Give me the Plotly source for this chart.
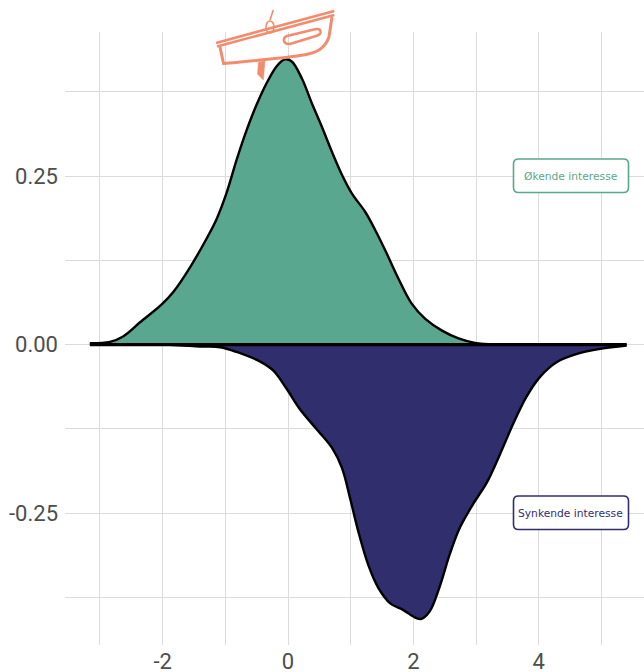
import plotly.graph_objects as go

up_x = [-3.16,-2.84,-2.63,-2.36,-2.01,-1.83,-1.56,-1.30,-1.14,-0.98,-0.82,-0.66,-0.50,-0.34,-0.18,-0.05,0.06,0.22,0.38,0.54,0.70,0.86,1.02,1.23,1.39,1.55,1.76,1.97,2.19,2.45,2.72,2.98,3.38,5.40]
up_y = [0.002,0.004,0.012,0.033,0.060,0.078,0.115,0.157,0.186,0.225,0.274,0.318,0.356,0.388,0.413,0.423,0.420,0.395,0.358,0.323,0.286,0.252,0.224,0.197,0.170,0.140,0.098,0.061,0.038,0.021,0.009,0.0025,0.0,0.0]
down_x = [-3.16,-1.89,-1.40,-1.08,-0.82,-0.45,-0.23,-0.02,0.19,0.46,0.70,0.86,0.99,1.12,1.28,1.44,1.63,1.84,2.05,2.13,2.26,2.42,2.58,2.74,2.95,3.17,3.38,3.59,3.80,4.02,4.29,4.61,4.98,5.40]
down_y = [0.0,-0.0005,-0.003,-0.004,-0.011,-0.025,-0.039,-0.066,-0.096,-0.126,-0.153,-0.183,-0.228,-0.277,-0.327,-0.361,-0.384,-0.394,-0.406,-0.407,-0.396,-0.359,-0.311,-0.272,-0.237,-0.205,-0.163,-0.118,-0.078,-0.048,-0.026,-0.014,-0.0065,-0.0015]
base_x = [-3.16, 5.40]
base_y = [0.0, 0.0]

x_major = [-2, 0, 2, 4]
x_minor = [-3, -1, 1, 3, 5]
y_major = [-0.25, 0, 0.25]
y_minor = [-0.375, -0.125, 0.125, 0.375]
y_labels = ["-0.25", "0.00", "0.25"]
label_up = "Økende interesse"
label_down = "Synkende interesse"

GREEN = "#5AA790"
NAVY = "#312E6D"
CORAL = "#F18C6E"
GRID = "#dcdcdc"
L, R, T, B = 65, 644, 32, 645


def X(p):
    return (p - L) / (R - L)


def Y(p):
    return (B - p) / (B - T)


def path(cmds):
    out = []
    for c in cmds:
        out.append(c[0] + " " + " ".join(
            f"{X(c[i]):.5f},{Y(c[i + 1]):.5f}" for i in range(1, len(c), 2)))
    return " ".join(out)


def rounded(x0, y0, x1, y1, r=5):
    return path([("M", x0 + r, y0), ("L", x1 - r, y0), ("Q", x1, y0, x1, y0 + r),
                 ("L", x1, y1 - r), ("Q", x1, y1, x1 - r, y1), ("L", x0 + r, y1),
                 ("Q", x0, y1, x0, y1 - r), ("L", x0, y0 + r), ("Q", x0, y0, x0 + r, y0)]) + " Z"


def sh(p, color, width=2.6, fill=None):
    return dict(type="path", path=p, xref="paper", yref="paper", layer="above",
                line=dict(color=color, width=width),
                fillcolor=fill if fill else "rgba(0,0,0,0)")


fig = go.Figure()
fig.add_trace(go.Scatter(x=up_x, y=up_y, mode="lines", fill="tozeroy", fillcolor=GREEN,
                         line=dict(color="black", width=2.4, shape="spline", smoothing=1.0)))
fig.add_trace(go.Scatter(x=down_x, y=down_y, mode="lines", fill="tozeroy", fillcolor=NAVY,
                         line=dict(color="black", width=2.4, shape="spline", smoothing=1.0)))
fig.add_trace(go.Scatter(x=base_x, y=base_y, mode="lines", line=dict(color="black", width=3.2)))

shapes = [
    sh(rounded(513.5, 159, 628.5, 192.5), GREEN, 1.6, "white"),
    sh(rounded(513.5, 496, 628.5, 529.5), NAVY, 1.6, "white"),
    # boat logo
    sh(path([("M", 216, 43), ("L", 334.3, 11)]), CORAL, 2.6),
    sh(path([("M", 217, 46.5), ("L", 334.3, 15)]), CORAL, 2.6),
    sh(path([("M", 220, 47), ("L", 223.5, 63.5), ("C", 250, 61, 285, 58, 300, 55.5),
             ("C", 318, 53, 325, 48, 329, 37), ("L", 332, 17)]), CORAL, 3),
    sh(path([("M", 287, 36), ("L", 316, 29), ("Q", 321, 28.5, 320.5, 32.5), ("Q", 320, 35, 316, 36),
             ("L", 290, 44), ("Q", 285, 44.5, 284, 41), ("Q", 283.5, 37, 287, 36)]) + " Z", CORAL, 2.6),
    sh(path([("M", 258.5, 62), ("L", 265, 61), ("L", 263.3, 80), ("L", 257.5, 74)]) + " Z", CORAL, 0.5, CORAL),
    sh(path([("M", 270, 20), ("L", 273.3, 10)]), CORAL, 1.6),
    dict(type="circle", xref="paper", yref="paper", layer="above",
         x0=X(266), x1=X(274), y0=Y(33), y1=Y(21), line=dict(color=CORAL, width=1.6)),
]

fig.update_layout(
    width=644, height=672, margin=dict(l=L, r=644 - R, t=T, b=672 - B),
    paper_bgcolor="white", plot_bgcolor="white", showlegend=False,
    shapes=shapes,
    font=dict(family="Roboto", color="#4d4d4d", size=22),
    annotations=[
        dict(x=4.51, y=0.25, xref="x", yref="y", text=label_up, showarrow=False,
             font=dict(family="DejaVu Sans", size=10.7, color=GREEN)),
        dict(x=4.51, y=-0.25, xref="x", yref="y", text=label_down, showarrow=False,
             font=dict(family="DejaVu Sans", size=10.7, color=NAVY)),
    ],
    xaxis=dict(range=[-3.557, 5.678], tickmode="array", tickvals=x_major, automargin=False,
               ticktext=[str(v) for v in x_major], showgrid=True, gridcolor=GRID, gridwidth=1,
               zeroline=False, showline=False, ticks="", ticklabelstandoff=1,
               minor=dict(tickvals=x_minor, showgrid=True, gridcolor=GRID, gridwidth=1, ticks="")),
    yaxis=dict(range=[-0.4458, 0.4637], tickmode="array", tickvals=y_major, ticktext=y_labels, automargin=False,
               showgrid=True, gridcolor=GRID, gridwidth=1, zeroline=False, showline=False, ticks="",
               ticklabelstandoff=6,
               minor=dict(tickvals=y_minor, showgrid=True, gridcolor=GRID, gridwidth=1, ticks="")),
)

fig.write_html("out.html", post_script="document.body.style.margin='0';",
               config=dict(displayModeBar=False))
